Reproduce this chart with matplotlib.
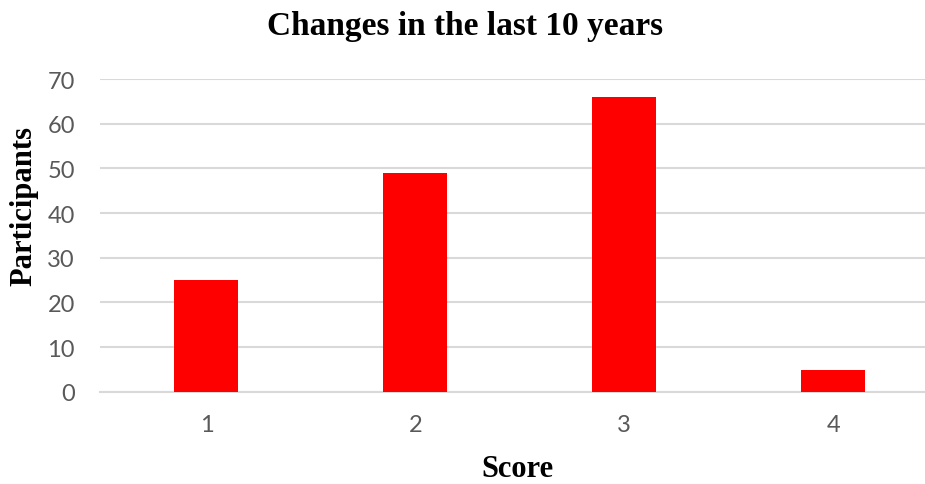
import matplotlib.pyplot as plt

scores = [1, 2, 3, 4]
participants = [25, 49, 66, 5]
y_ticks = [0, 10, 20, 30, 40, 50, 60, 70]

fig = plt.figure(figsize=(9.25, 4.85), dpi=100)
ax = fig.add_axes([0.108, 0.19, 0.892, 0.645])

ax.bar(scores, participants, width=0.306, color="#ff0000", zorder=3)

ax.set_xlim(0.49, 4.44)
ax.set_ylim(0, 70)
ax.set_yticks(y_ticks)
ax.set_xticks(scores)
ax.grid(axis="y", color="#d9d9d9", linewidth=1.5, zorder=0)
for side in ["top", "right", "left"]:
    ax.spines[side].set_visible(False)
ax.spines["bottom"].set_color("#d9d9d9")
ax.spines["bottom"].set_linewidth(1.5)
ax.tick_params(length=0, labelcolor="#595959", labelsize=17)
ax.tick_params(axis="x", pad=16)
ax.tick_params(axis="y", pad=18)
for lbl in ax.get_xticklabels() + ax.get_yticklabels():
    lbl.set_family("Lato")

serif = dict(fontweight="bold", family="Liberation Serif", ha="center", va="center")
fig.text(0.503, 0.946, "Changes in the last 10 years", fontsize=24, **serif)
fig.text(517 / 925, 1 - 470 / 485, "Score", fontsize=22, **serif)
fig.text(24 / 925, 1 - 206 / 485, "Participants", fontsize=22, rotation=90, **serif)

fig.savefig("out.png", dpi=100)
